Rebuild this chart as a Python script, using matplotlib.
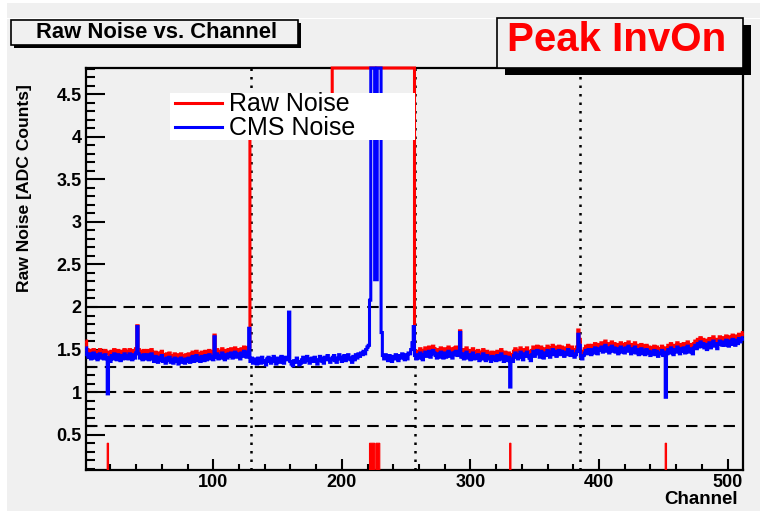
import numpy as np
import matplotlib
matplotlib.use("Agg")
import matplotlib.pyplot as plt
from matplotlib.patches import Rectangle
from matplotlib.lines import Line2D

plt.rcParams["font.family"] = ["Liberation Sans", "DejaVu Sans"]

# noise per channel, in hundredths of ADC counts, one list per 128-channel chip
raw_chip1 = [160, 150, 146, 149, 144, 147, 150, 145, 148, 143, 147, 150, 145, 148, 144, 149,
             146, 147, 145, 141, 148, 144, 150, 146, 143, 149, 145, 142, 148, 144, 150, 145,
             148, 144, 150, 146, 143, 149, 145, 151, 178, 150, 145, 148, 143, 149, 146, 144,
             149, 143, 146, 150, 144, 141, 147, 143, 140, 146, 142, 148, 141, 144, 139, 145,
             142, 146, 140, 143, 139, 145, 141, 144, 138, 142, 145, 140, 143, 139, 144, 141,
             145, 140, 143, 147, 141, 144, 148, 142, 145, 141, 147, 144, 142, 148, 143, 146,
             149, 144, 147, 143, 167, 146, 150, 144, 148, 145, 151, 146, 143, 149, 145, 150,
             147, 151, 145, 149, 152, 146, 150, 148, 144, 151, 147, 153, 149, 146, 152, 153]
# chip 2 raw noise is off scale: first half ~4.3, second half above the frame
raw_chip2 = [430] * 64 + [900] * 64
raw_chip3 = [148, 144, 148, 145, 151, 146, 143, 149, 152, 147, 150, 153, 146, 150, 154, 151,
             148, 145, 150, 146, 152, 149, 145, 151, 146, 150, 153, 147, 151, 145, 149, 152,
             153, 148, 151, 172, 146, 150, 144, 148, 152, 145, 149, 143, 147, 151, 144, 148,
             145, 149, 142, 147, 144, 150, 146, 142, 148, 144, 146, 141, 147, 143, 146, 142,
             148, 143, 146, 150, 144, 141, 147, 145, 142, 146, 140, 144, 141, 148, 151, 146,
             144, 149, 152, 146, 143, 150, 147, 152, 148, 145, 142, 149, 153, 147, 150, 154,
             151, 146, 153, 149, 145, 151, 148, 154, 150, 146, 152, 155, 149, 153, 147, 151,
             154, 149, 153, 150, 147, 152, 149, 155, 151, 148, 153, 150, 146, 149, 153, 173]
raw_chip4 = [162, 147, 144, 148, 151, 154, 150, 155, 152, 149, 155, 151, 157, 153, 150, 156,
             154, 158, 152, 156, 160, 153, 157, 151, 155, 159, 153, 157, 152, 156, 150, 154,
             158, 152, 156, 151, 157, 153, 159, 154, 150, 156, 152, 158, 151, 155, 149, 153,
             156, 150, 154, 149, 155, 151, 153, 148, 152, 150, 154, 149, 153, 147, 151, 150,
             154, 148, 152, 148, 150, 155, 151, 157, 153, 149, 155, 152, 158, 154, 150, 156,
             153, 157, 151, 155, 159, 152, 156, 154, 150, 157, 160, 156, 162, 158, 164, 159,
             162, 157, 161, 155, 160, 163, 157, 161, 165, 159, 162, 156, 161, 165, 163, 160,
             164, 160, 166, 162, 159, 165, 161, 167, 163, 160, 166, 162, 168, 164, 167, 170]

cms_chip1 = [152, 144, 141, 145, 139, 143, 146, 140, 144, 138, 142, 145, 140, 143, 139, 144,
             141, 98, 140, 136, 143, 139, 145, 141, 138, 144, 140, 137, 143, 139, 145, 140,
             143, 139, 145, 141, 138, 144, 140, 146, 177, 145, 140, 143, 138, 144, 141, 139,
             144, 138, 141, 145, 139, 136, 142, 138, 135, 141, 137, 143, 136, 139, 134, 140,
             137, 141, 135, 138, 134, 140, 136, 139, 133, 137, 140, 135, 138, 134, 139, 136,
             140, 135, 138, 142, 136, 139, 143, 137, 140, 136, 142, 139, 137, 143, 138, 141,
             144, 139, 142, 138, 165, 141, 145, 139, 143, 140, 146, 141, 138, 144, 140, 145,
             142, 146, 140, 144, 147, 141, 145, 143, 139, 146, 142, 148, 144, 141, 147, 175]
cms_chip2 = [136, 140, 134, 139, 137, 133, 140, 136, 134, 141, 137, 135, 132, 139, 141, 136,
             134, 139, 142, 136, 133, 140, 138, 135, 142, 137, 134, 141, 138, 140, 194, 136,
             133, 131, 137, 135, 140, 136, 132, 134, 138, 141, 135, 137, 142, 139, 134, 137,
             140, 136, 141, 138, 133, 137, 142, 140, 136, 134, 141, 138, 143, 139, 135, 138,
             141, 143, 137, 135, 140, 144, 139, 136, 141, 143, 137, 139, 144, 140, 138, 135,
             142, 138, 144, 140, 145, 142, 146, 144, 148, 145, 150, 153, 155, 208, 600, 600,
             600, 232, 232, 600, 600, 600, 170, 143, 139, 144, 141, 137, 143, 140, 136, 142,
             139, 144, 141, 137, 143, 140, 145, 141, 138, 144, 139, 146, 145, 150, 158, 177]
cms_chip3 = [143, 139, 144, 140, 146, 141, 138, 144, 147, 142, 145, 148, 141, 145, 149, 146,
             143, 140, 145, 141, 147, 144, 140, 146, 141, 145, 148, 142, 146, 140, 144, 147,
             148, 143, 146, 170, 141, 145, 139, 143, 147, 140, 144, 138, 142, 146, 139, 143,
             140, 144, 137, 142, 139, 145, 141, 137, 143, 139, 141, 136, 142, 138, 141, 137,
             143, 138, 141, 145, 139, 136, 142, 140, 137, 141, 106, 139, 136, 143, 146, 141,
             139, 144, 147, 141, 138, 145, 142, 147, 143, 140, 137, 144, 148, 142, 145, 149,
             146, 141, 148, 144, 140, 146, 143, 149, 145, 141, 147, 150, 144, 148, 142, 146,
             149, 144, 148, 145, 142, 147, 144, 150, 146, 143, 148, 145, 141, 144, 148, 168]
cms_chip4 = [155, 142, 139, 143, 146, 149, 145, 150, 147, 144, 150, 146, 152, 148, 145, 151,
             149, 153, 147, 151, 155, 148, 152, 146, 150, 154, 148, 152, 147, 151, 145, 149,
             153, 147, 151, 146, 152, 148, 154, 149, 145, 151, 147, 153, 146, 150, 144, 148,
             151, 145, 149, 144, 150, 146, 148, 143, 147, 145, 149, 144, 148, 142, 146, 145,
             149, 143, 147, 94, 145, 150, 146, 152, 148, 144, 150, 147, 153, 149, 145, 151,
             148, 152, 146, 150, 154, 147, 151, 149, 145, 152, 155, 151, 157, 153, 159, 154,
             157, 152, 156, 150, 155, 158, 152, 156, 160, 154, 157, 151, 156, 160, 158, 155,
             159, 155, 161, 157, 154, 160, 156, 162, 158, 155, 161, 157, 163, 159, 162, 164]

bad_channels = [18, 222, 223, 224, 225, 227, 228, 229, 331, 452]
bad_flag_height = 0.4

cut_lines = [2.0, 1.3, 1.0, 0.6]      # dashed horizontal thresholds
chip_edges = [129, 257, 385]          # dotted vertical chip boundaries

raw_noise = np.array(raw_chip1 + raw_chip2 + raw_chip3 + raw_chip4) / 100.0
cms_noise = np.array(cms_chip1 + cms_chip2 + cms_chip3 + cms_chip4) / 100.0
n_ch = len(raw_noise)
edges = np.arange(0.5, n_ch + 1.5)
flags = np.zeros(n_ch)
flags[np.array(bad_channels) - 1] = bad_flag_height

ymin, ymax = 0.086, 4.806
W, H = 760, 517
bg = "#f0f0f0"


def fx(x):
    return x / W


def fy(y):
    return 1 - y / H


fig = plt.figure(figsize=(W / 100, H / 100), dpi=100)
fig.patch.set_facecolor("white")
fig.add_artist(Rectangle((fx(7), fy(511)), 1, fy(3) - fy(511), transform=fig.transFigure,
                         facecolor=bg, edgecolor="none", zorder=-10))
fig.add_artist(Line2D([fx(7), 1], [fy(18), fy(18)], transform=fig.transFigure,
                      color="white", lw=0.8, zorder=-9))

ax = fig.add_axes([fx(86), fy(470), (743 - 86) / W, (470 - 68) / H])
ax.set_facecolor(bg)

ax.stairs(np.minimum(raw_noise, ymax), edges, baseline=None, color="red", lw=2.2,
          zorder=3, clip_on=False)
ax.stairs(np.minimum(cms_noise, ymax), edges, baseline=None, color="blue", lw=2.2,
          zorder=4, clip_on=False)
ax.stairs(flags, edges, fill=True, facecolor="red", edgecolor="red", lw=0.8, zorder=3)

for y in cut_lines:
    ax.axhline(y, color="black", lw=1.5, ls=(0, (5.5, 3.5)), zorder=2)
for x in chip_edges:
    ax.axvline(x, color="black", lw=1.8, ls=(0, (1.0, 2.4)), zorder=2)

ax.set_xlim(1, 512)
ax.set_ylim(ymin, ymax)
ax.set_xticks([100, 200, 300, 400, 500])
ax.set_xticks(np.arange(20, 512, 20), minor=True)
ax.set_yticks([0.5, 1, 1.5, 2, 2.5, 3, 3.5, 4, 4.5])
ax.set_yticklabels(["0.5", "1", "1.5", "2", "2.5", "3", "3.5", "4", "4.5"])
ax.set_yticks(np.arange(0.1, 4.81, 0.1), minor=True)
ax.tick_params(which="both", direction="in", top=False, right=False, width=1.5,
               labelsize=13)
ax.tick_params(axis="y", which="major", length=14, pad=3)
ax.tick_params(axis="y", which="minor", length=6.5)
ax.tick_params(axis="x", which="major", length=8, pad=3)
ax.tick_params(axis="x", which="minor", length=4.5)
for lab in ax.get_xticklabels() + ax.get_yticklabels():
    lab.set_fontweight("bold")
for sp in ax.spines.values():
    sp.set_linewidth(1.6)

# legend: white box with line samples and labels
fig.add_artist(Rectangle((fx(170), fy(140)), fx(245), fy(93) - fy(140), transform=fig.transFigure,
                         facecolor="white", edgecolor="none", zorder=5))
legend_items = [("Raw Noise", "red", 103), ("CMS Noise", "blue", 127)]
for label, color, ypix in legend_items:
    fig.add_artist(Line2D([fx(175), fx(222)], [fy(ypix), fy(ypix)], transform=fig.transFigure,
                          color=color, lw=2.2, zorder=6))
    fig.text(fx(229), fy(ypix + 1), label, ha="left", va="center", fontsize=18, zorder=6)

# title box with shadow
fig.add_artist(Rectangle((fx(14), fy(48)), fx(287), fy(20) - fy(45), transform=fig.transFigure,
                         facecolor="black", edgecolor="none", zorder=5))
fig.add_artist(Rectangle((fx(11), fy(45)), fx(287), fy(20) - fy(45), transform=fig.transFigure,
                         facecolor=bg, edgecolor="black", lw=1.2, zorder=6))
fig.text(fx(156), fy(32.5), "Raw Noise vs. Channel", ha="center", va="center",
         fontsize=15.8, fontweight="bold", zorder=7)

# run-mode box with shadow
fig.add_artist(Rectangle((fx(505), fy(75)), fx(246), fy(18) - fy(68), transform=fig.transFigure,
                         facecolor="black", edgecolor="none", zorder=5))
fig.add_artist(Rectangle((fx(497), fy(68)), fx(246), fy(18) - fy(68), transform=fig.transFigure,
                         facecolor=bg, edgecolor="black", lw=1.2, zorder=6))
fig.text(fx(617), fy(40), "Peak InvOn", ha="center", va="center", color="red",
         fontsize=29, fontweight="bold", zorder=7)

fig.text(fx(25), fy(188), "Raw Noise [ADC Counts]", rotation=90, ha="center", va="center",
         fontsize=12.6, fontweight="bold")
fig.text(fx(738), fy(499), "Channel", ha="right", va="center", fontsize=13.5, fontweight="bold")

fig.savefig("out.png", dpi=100, facecolor=fig.get_facecolor())
